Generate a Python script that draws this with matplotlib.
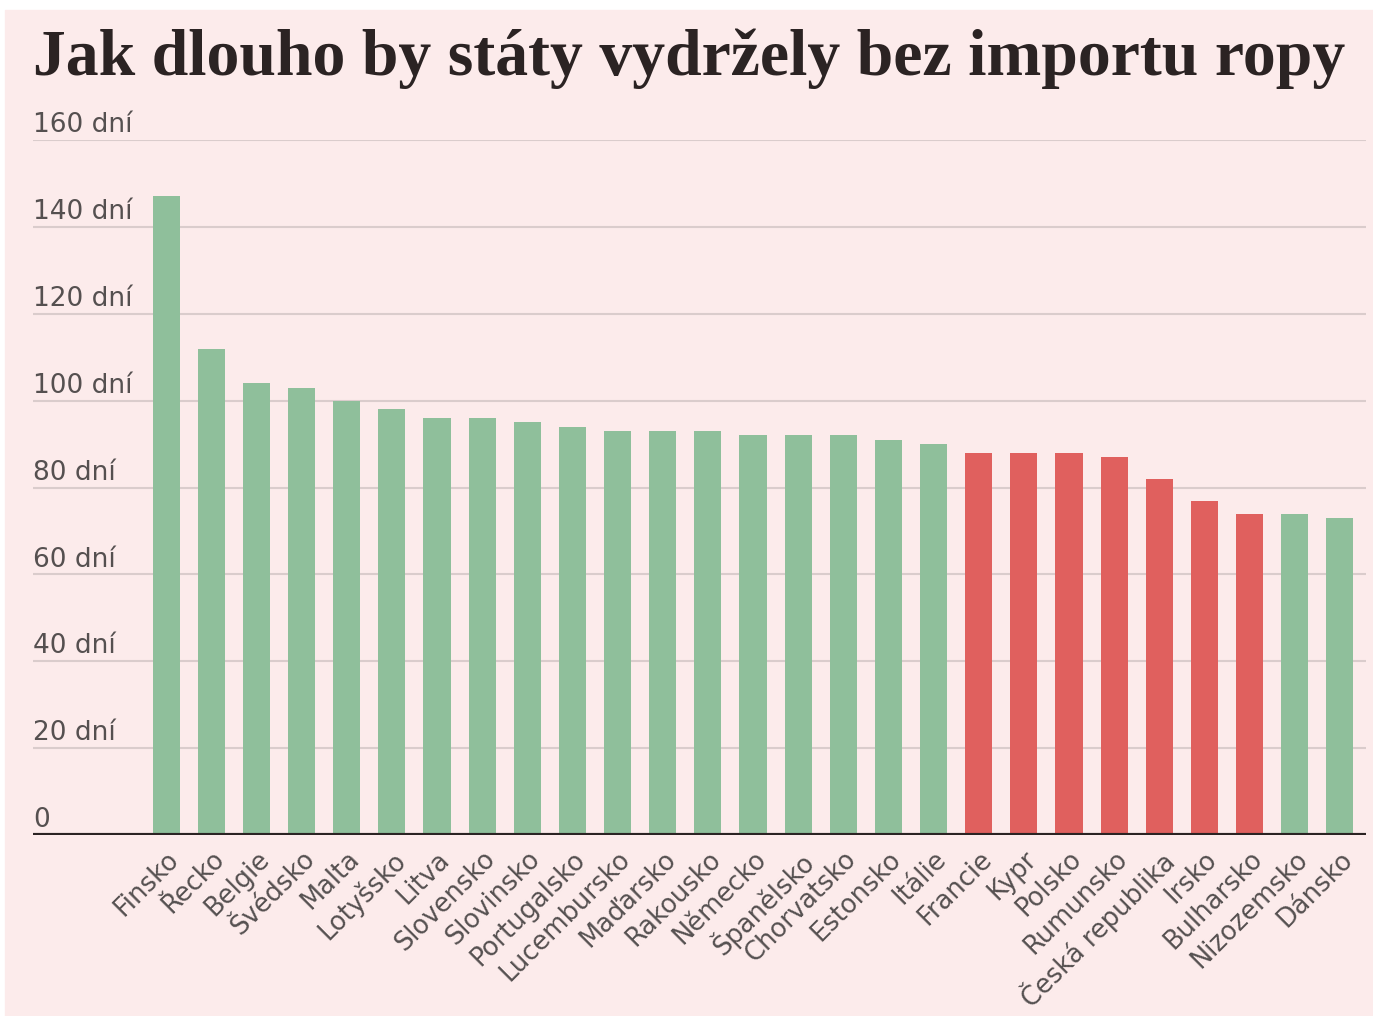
import matplotlib.pyplot as plt
from matplotlib.patches import Rectangle

# data
countries = ["Finsko", "Řecko", "Belgie", "Švédsko", "Malta", "Lotyšsko", "Litva",
             "Slovensko", "Slovinsko", "Portugalsko", "Lucembursko", "Maďarsko",
             "Rakousko", "Německo", "Španělsko", "Chorvatsko", "Estonsko", "Itálie",
             "Francie", "Kypr", "Polsko", "Rumunsko", "Česká republika", "Irsko",
             "Bulharsko", "Nizozemsko", "Dánsko"]
days = [147, 112, 104, 103, 100, 98, 96, 96, 95, 94, 93, 93, 93, 92, 92, 92, 91, 90,
        88, 88, 88, 87, 82, 77, 74, 74, 73]
below_limit = [False] * 18 + [True] * 7 + [False] * 2
yticks = [0, 20, 40, 60, 80, 100, 120, 140, 160]

# theme
bg = "#fcebeb"
green = "#8fbf9b"
red = "#e0605e"
text_col = "#555050"

fig = plt.figure(figsize=(13.73, 10.16), dpi=100, facecolor="white")
fig.patches.append(Rectangle((5 / 1373, 0), 1 - 5 / 1373, 1 - 10 / 1016,
                             transform=fig.transFigure, color=bg, zorder=-10))

ax = fig.add_axes([33 / 1373, 1 - 835 / 1016, (1366 - 33) / 1373, (835 - 140) / 1016])
ax.patch.set_alpha(0)

colors = [red if b else green for b in below_limit]
x = list(range(len(countries)))
ax.bar(x, days, width=0.6, color=colors, zorder=2)

ax.set_xlim(-2.95, len(countries) - 0.42)
ax.set_ylim(0, 160)

# gridlines + labels sitting above them
for v in yticks:
    if v > 0:
        ax.axhline(v, color="#dacccc", linewidth=1.5, zorder=1)
    lab = "0" if v == 0 else f"{v} dní"
    ax.text(0, v + 1.8, lab, transform=ax.get_yaxis_transform(), ha="left",
            va="baseline", fontsize=19, color=text_col, family="DejaVu Sans")
ax.axhline(0, color="#2b2323", linewidth=3, zorder=3)

ax.set_yticks([])
ax.set_xticks(x)
ax.set_xticklabels(countries, rotation=45, ha="right", va="top",
                   rotation_mode="anchor", fontsize=18.5, color=text_col)
ax.tick_params(axis="x", length=0, pad=8)
for s in ax.spines.values():
    s.set_visible(False)

title = fig.text(33 / 1373, 1 - 75 / 1016, "Jak dlouho by státy vydržely bez importu ropy",
                 fontsize=48, fontweight="bold", family="Liberation Serif",
                 color="#2b2323", ha="left", va="baseline")
# fit title width to the reference (~1312 px)
fig.canvas.draw()
w = title.get_window_extent().width
title.set_fontsize(48 * 1312 / w)

fig.savefig("out.png", dpi=100, facecolor="white")
